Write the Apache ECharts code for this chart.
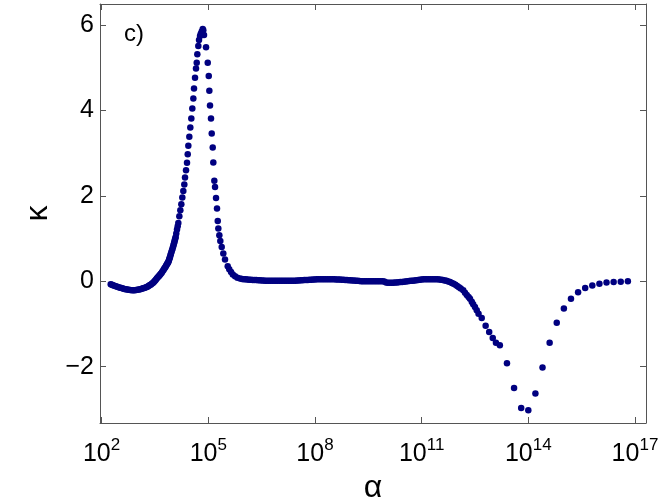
<!DOCTYPE html>
<html>
<head>
<meta charset="utf-8">
<script src="https://cdn.jsdelivr.net/npm/echarts@6/dist/echarts.min.js"></script>
<style>
  html, body { margin: 0; padding: 0; background: #fff; }
</style>
</head>
<body>
<div id="scatter" style="width: 664px; height: 498px;"></div>
<script>
// x = log10(alpha), y = kappa
const logAlpha = [
  2.256, 2.29, 2.32, 2.36, 2.40, 2.44, 2.48, 2.52, 2.56, 2.60,
  2.64, 2.68, 2.72, 2.76, 2.80, 2.85, 2.89, 2.93, 2.97, 3.01,
  3.05, 3.09, 3.13, 3.165, 3.20, 3.235, 3.27, 3.30, 3.33, 3.36,
  3.39, 3.42, 3.45, 3.475, 3.50, 3.525, 3.55, 3.575, 3.60, 3.62,
  3.643, 3.665, 3.69, 3.71, 3.736, 3.755, 3.775, 3.795, 3.812, 3.83,
  3.845, 3.86, 3.876, 3.89, 3.90, 3.912, 3.924, 3.937, 3.95, 3.965,
  3.98, 3.995, 4.01, 4.024, 4.037, 4.05, 4.06, 4.072, 4.084, 4.10,
  4.121, 4.14, 4.158, 4.186, 4.214, 4.242, 4.27, 4.298, 4.326, 4.346,
  4.374, 4.402, 4.422, 4.439, 4.467, 4.495, 4.523, 4.551, 4.58, 4.599,
  4.627, 4.655, 4.675, 4.692, 4.72, 4.74, 4.768, 4.79, 4.816, 4.844,
  4.86, 4.88, 4.937, 4.985, 5.013, 5.03, 5.049, 5.077, 5.097, 5.125,
  5.142, 5.17, 5.19, 5.218, 5.246, 5.266, 5.283, 5.311, 5.339, 5.378,
  5.423, 5.471, 5.547, 5.59, 5.64, 5.69, 5.753, 5.82, 5.893,
  5.95, 6.0, 6.05, 6.1, 6.15, 6.2, 6.25, 6.3, 6.35, 6.4,
  6.45, 6.5, 6.55, 6.6, 6.65, 6.7, 6.75, 6.8, 6.85, 6.9,
  6.95, 7.0, 7.05, 7.1, 7.15, 7.2, 7.25, 7.3, 7.35, 7.4,
  7.45, 7.5, 7.55, 7.6, 7.65, 7.7, 7.75, 7.8, 7.85, 7.9,
  7.95, 8.0, 8.05, 8.1, 8.15, 8.2, 8.25, 8.3, 8.35, 8.4,
  8.45, 8.5, 8.55, 8.6, 8.65, 8.7, 8.75, 8.8, 8.85, 8.9,
  8.95, 9.0, 9.05, 9.1, 9.15, 9.2, 9.25, 9.3, 9.35, 9.4,
  9.45, 9.5, 9.55, 9.6, 9.65, 9.7, 9.75, 9.8, 9.85, 9.9,
  9.95, 10.0, 10.05, 10.1, 10.15, 10.2, 10.25, 10.3, 10.35, 10.4,
  10.45, 10.5, 10.55, 10.6, 10.65, 10.7, 10.75, 10.8, 10.85, 10.9,
  10.95, 11.0, 11.05, 11.1, 11.15, 11.2, 11.25, 11.3, 11.35, 11.4,
  11.45, 11.5, 11.55, 11.6, 11.65, 11.7, 11.75, 11.8, 11.85, 11.9,
  11.95, 12.0, 12.05, 12.1, 12.17, 12.22, 12.27, 12.32, 12.36, 12.41,
  12.45, 12.50, 12.55, 12.60, 12.69, 12.80, 12.90, 13.00, 13.09, 13.2,
  13.4, 13.6, 13.8, 14.0, 14.2, 14.4, 14.6, 14.8, 15.0, 15.2,
  15.4, 15.6, 15.8, 16.0, 16.2, 16.4, 16.6, 16.8
];
const kappa = [
  -0.07, -0.082, -0.094, -0.105, -0.117, -0.128, -0.14, -0.15, -0.16, -0.17,
  -0.18, -0.188, -0.195, -0.2, -0.205, -0.209, -0.211, -0.209, -0.205, -0.2,
  -0.193, -0.185, -0.176, -0.166, -0.155, -0.145, -0.134, -0.12, -0.105, -0.09,
  -0.075, -0.055, -0.035, -0.012, 0.01, 0.035, 0.063, 0.087, 0.11, 0.13,
  0.152, 0.175, 0.2, 0.228, 0.258, 0.285, 0.31, 0.337, 0.363, 0.387,
  0.41, 0.43, 0.452, 0.48, 0.51, 0.54, 0.57, 0.607, 0.645, 0.686,
  0.727, 0.768, 0.81, 0.85, 0.891, 0.93, 0.965, 1.0, 1.039, 1.12,
  1.212, 1.29, 1.367, 1.524, 1.665, 1.805, 1.962, 2.117, 2.267, 2.431,
  2.603, 2.774, 2.978, 3.172, 3.383, 3.604, 3.815, 4.049, 4.284, 4.518,
  4.767, 4.987, 5.118, 5.315, 5.51, 5.651, 5.744, 5.80, 5.85, 5.91,
  5.88, 5.768, 5.48, 5.118, 4.807, 4.462, 4.12, 3.815, 3.463, 3.135,
  2.783, 2.352, 2.211, 1.953, 1.705, 1.414, 1.236, 1.079, 0.945, 0.804,
  0.649, 0.509, 0.352, 0.28, 0.218, 0.16, 0.117, 0.085, 0.063,
  0.055, 0.05, 0.045, 0.04, 0.038, 0.035, 0.032, 0.03, 0.028, 0.025,
  0.022, 0.02, 0.018, 0.015, 0.012, 0.01, 0.01, 0.01, 0.01, 0.01,
  0.01, 0.01, 0.01, 0.01, 0.01, 0.01, 0.012, 0.012, 0.013, 0.014,
  0.015, 0.02, 0.02, 0.022, 0.025, 0.028, 0.03, 0.032, 0.035, 0.038,
  0.04, 0.042, 0.045, 0.047, 0.048, 0.05, 0.05, 0.05, 0.05, 0.05,
  0.05, 0.048, 0.046, 0.044, 0.042, 0.04, 0.036, 0.033, 0.03, 0.028,
  0.025, 0.022, 0.02, 0.018, 0.014, 0.01, 0.005, 0.0, 0.0, 0.0,
  0.0, 0.0, 0.0, 0.0, 0.0, 0.0, 0.0, 0.0, 0.0, 0.0,
  -0.005, -0.03, -0.035, -0.035, -0.035, -0.033, -0.03, -0.027, -0.024, -0.02,
  -0.015, -0.01, -0.005, 0.0, 0.005, 0.01, 0.015, 0.02, 0.025, 0.03,
  0.035, 0.04, 0.045, 0.048, 0.05, 0.05, 0.05, 0.05, 0.05, 0.048,
  0.045, 0.04, 0.035, 0.03, 0.02, 0.01, -0.005, -0.02, -0.04, -0.06,
  -0.08, -0.11, -0.14, -0.17, -0.21, -0.27, -0.32, -0.37, -0.41, -0.48,
  -0.54, -0.60, -0.68, -0.76, -0.86, -1.04, -1.19, -1.33, -1.44, -1.50,
  -1.92, -2.50, -2.97, -3.02, -2.63, -2.02, -1.44, -0.97, -0.64, -0.41,
  -0.26, -0.16, -0.10, -0.06, -0.03, -0.02, -0.01, 0.0
];
const xTicks = [2, 5, 8, 11, 14, 17];   // exponents of 10
const yTicks = [-2, 0, 2, 4, 6];

const font = 'Liberation Sans, Arial, Helvetica, sans-serif';
const axisColor = '#555';
const xRange = { min: 1.955, max: 17.31 };
const yRange = { min: -3.32, max: 6.495 };

const frameAxis = {
  axisLine: { show: true, onZero: false, lineStyle: { color: axisColor, width: 1 } },
  axisTick: { show: true, inside: true, length: 6, lineStyle: { color: axisColor } },
  splitLine: { show: false }
};

echarts.init(document.getElementById('scatter')).setOption({
  backgroundColor: '#fff',
  animation: false,
  title: {
    text: 'c)',
    left: 119,
    top: 17,
    textStyle: { fontFamily: font, fontSize: 24, fontWeight: 'normal', color: '#000' }
  },
  grid: { left: 100, right: 18, top: 4, bottom: 75, outerBoundsMode: 'none' },
  xAxis: [
    Object.assign({}, frameAxis, {
      type: 'value',
      position: 'bottom',
      min: xRange.min,
      max: xRange.max,
      name: 'α',
      nameLocation: 'middle',
      nameGap: 44,
      nameTextStyle: { fontFamily: font, fontSize: 32, color: '#000' },
      axisTick: Object.assign({}, frameAxis.axisTick, { customValues: xTicks }),
      axisLabel: {
        customValues: xTicks,
        margin: 14,
        formatter: function (v) {
          return '{b|10}{s|' + v + '}';
        },
        rich: {
          b: { fontFamily: font, fontSize: 25, color: '#000' },
          s: { fontFamily: font, fontSize: 17, color: '#000', verticalAlign: 'bottom', padding: [0, 0, 18, 0] }
        }
      }
    }),
    Object.assign({}, frameAxis, {
      type: 'value',
      position: 'top',
      min: xRange.min,
      max: xRange.max,
      axisTick: Object.assign({}, frameAxis.axisTick, { customValues: xTicks }),
      axisLabel: { show: false }
    })
  ],
  yAxis: [
    Object.assign({}, frameAxis, {
      type: 'value',
      position: 'left',
      min: yRange.min,
      max: yRange.max,
      name: 'κ',
      nameLocation: 'middle',
      nameGap: 45,
      nameTextStyle: { fontFamily: font, fontSize: 32, color: '#000' },
      axisTick: Object.assign({}, frameAxis.axisTick, { customValues: yTicks }),
      axisLabel: {
        customValues: yTicks,
        margin: 6,
        fontFamily: font,
        fontSize: 25,
        color: '#000',
        formatter: function (v) {
          return v < 0 ? '\u2212' + Math.abs(v) : String(v);
        }
      }
    }),
    Object.assign({}, frameAxis, {
      type: 'value',
      position: 'right',
      min: yRange.min,
      max: yRange.max,
      axisTick: Object.assign({}, frameAxis.axisTick, { customValues: yTicks }),
      axisLabel: { show: false }
    })
  ],
  series: [
    {
      type: 'scatter',
      xAxisIndex: 0,
      yAxisIndex: 0,
      symbol: 'circle',
      symbolSize: 6.5,
      itemStyle: { color: '#000080', opacity: 1 },
      data: logAlpha.map(function (x, i) { return [x, kappa[i]]; })
    }
  ]
});
</script>
</body>
</html>
